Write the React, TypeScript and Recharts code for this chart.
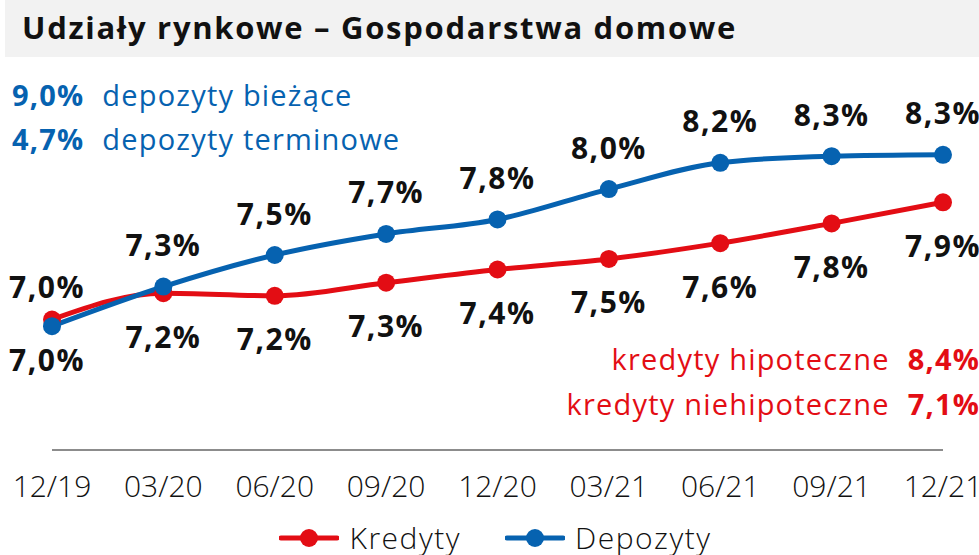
import React from "react";
import { LineChart, Line, XAxis, YAxis, LabelList, Legend } from "recharts";

const categories = ["12/19", "03/20", "06/20", "09/20", "12/20", "03/21", "06/21", "09/21", "12/21"];
const kredyty = [7.03, 7.23, 7.21, 7.31, 7.41, 7.49, 7.61, 7.76, 7.92];
const depozyty = [6.98, 7.28, 7.52, 7.68, 7.79, 8.02, 8.22, 8.27, 8.28];

const topNotes = [
  { value: "9,0%", text: "depozyty bieżące" },
  { value: "4,7%", text: "depozyty terminowe" },
];
const bottomNotes = [
  { value: "8,4%", text: "kredyty hipoteczne" },
  { value: "7,1%", text: "kredyty niehipoteczne" },
];

const RED = "#e30d14";
const BLUE = "#0662b0";
const FONT = "'Open Sans', sans-serif";

const data = categories.map((c, i) => ({ name: c, kredyty: kredyty[i], depozyty: depozyty[i] }));

const fmt = (v: number) => v.toFixed(1).replace(".", ",") + "%";

const makeLabel = (series: string) => (props: any) => {
  const { x, y, value, index } = props;
  let dy;
  if (series === "depozyty") dy = index === 0 ? 33 : -42;
  else dy = index === 0 ? -33 : 43;
  return (
    <text
      x={x - (index === 0 ? 5 : 0)}
      y={y + dy}
      textAnchor="middle"
      dominantBaseline="central"
      fontFamily={FONT}
      fontWeight={700}
      fontSize={30}
      letterSpacing={1.5}
      fill="#111"
    >
      {fmt(value)}
    </text>
  );
};

const Tick = (props: any) => {
  const { x, y, payload } = props;
  return (
    <text x={x} y={y + 27} textAnchor="middle" dominantBaseline="central" fontFamily={FONT} fontWeight={300} fontSize={30} fill="#111">
      {payload.value}
    </text>
  );
};

const LegendContent = () => {
  const items = [
    { name: "Kredyty", color: RED },
    { name: "Depozyty", color: BLUE },
  ];
  return (
    <div style={{ display: "flex", justifyContent: "center", gap: 44, fontFamily: FONT, fontWeight: 300, fontSize: 30, lineHeight: "34px", letterSpacing: 1.5, color: "#111", paddingLeft: 12 }}>
      {items.map((it) => (
        <div key={it.name} style={{ display: "flex", alignItems: "center" }}>
          <svg width={60} height={24} style={{ marginRight: 10 }}>
            <line x1={2} y1={12} x2={58} y2={12} stroke={it.color} strokeWidth={5} strokeLinecap="round" />
            <circle cx={30} cy={12} r={9} fill={it.color} />
          </svg>
          <span>{it.name}</span>
        </div>
      ))}
    </div>
  );
};

export default function App() {
  return (
    <div style={{ position: "absolute", left: 0, top: 0, width: 979, height: 555, background: "#fff", overflow: "hidden" }}>
      <LineChart width={979} height={555} data={data} margin={{ top: 60, right: 36, left: 52, bottom: 11 }}>
        <XAxis
          dataKey="name"
          tick={<Tick />}
          tickLine={false}
          axisLine={{ stroke: "#8c8c8c", strokeWidth: 2 }}
          interval={0}
          height={60}
        />
        <YAxis hide domain={[6.04, 9.0]} />
        <Legend
          content={<LegendContent />}
          wrapperStyle={{ position: "absolute", top: 521, left: 0, width: 979 }}
        />
        <Line
          dataKey="kredyty"
          name="Kredyty"
          type="monotone"
          stroke={RED}
          strokeWidth={5}
          dot={{ r: 9, fill: RED, stroke: RED, strokeWidth: 0 }}
          isAnimationActive={false}
        >
          <LabelList dataKey="kredyty" content={makeLabel("kredyty")} />
        </Line>
        <Line
          dataKey="depozyty"
          name="Depozyty"
          type="monotone"
          stroke={BLUE}
          strokeWidth={5}
          dot={{ r: 9, fill: BLUE, stroke: BLUE, strokeWidth: 0 }}
          isAnimationActive={false}
        >
          <LabelList dataKey="depozyty" content={makeLabel("depozyty")} />
        </Line>
      </LineChart>

      <div
        style={{
          position: "absolute",
          left: 5,
          top: 0,
          width: 974,
          height: 57,
          background: "#f2f2f2",
          fontFamily: FONT,
          fontWeight: 700,
          fontSize: 31,
          letterSpacing: 1.7,
          color: "#111",
          lineHeight: "54px",
          paddingLeft: 17,
          boxSizing: "border-box",
        }}
      >
        Udziały rynkowe – Gospodarstwa domowe
      </div>

      {topNotes.map((n, i) => (
        <div
          key={n.text}
          style={{ position: "absolute", left: 12, top: 77 + i * 44, fontFamily: FONT, fontSize: 29, letterSpacing: 1.2, color: BLUE, lineHeight: "36px", whiteSpace: "nowrap" }}
        >
          <span style={{ fontWeight: 700 }}>{n.value}</span>
          <span style={{ marginLeft: 18 }}>{n.text}</span>
        </div>
      ))}

      {bottomNotes.map((n, i) => (
        <div
          key={n.text}
          style={{ position: "absolute", right: -1, top: 341 + i * 45, fontFamily: FONT, fontSize: 29, letterSpacing: 1.2, color: RED, lineHeight: "36px", whiteSpace: "nowrap", textAlign: "right" }}
        >
          <span>{n.text}</span>
          <span style={{ fontWeight: 700, marginLeft: 18 }}>{n.value}</span>
        </div>
      ))}
    </div>
  );
}
